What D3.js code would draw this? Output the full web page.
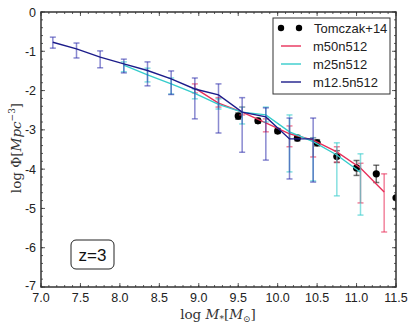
<!DOCTYPE html>
<html>
<head>
<meta charset="utf-8">
<script src="https://cdn.jsdelivr.net/npm/d3@7"></script>
<style>
  body { margin: 0; background: #fff; }
  text { font-family: "Liberation Sans", Arial, sans-serif; }
  .math { font-family: "DejaVu Serif", "Liberation Serif", serif; }
</style>
</head>
<body>
<div id="chart"></div>
<script>
// Tomczak+14 observations
var tomX = [9.5, 9.75, 10.0, 10.25, 10.5, 10.75, 11.0, 11.25, 11.5];
var tomY = [-2.65, -2.77, -3.03, -3.21, -3.33, -3.68, -3.97, -4.12, -4.73];
var tomErr = [0.08, 0.06, 0.06, 0.07, 0.08, 0.15, 0.19, 0.22, 0.3];

// m50n512
var redX  = [8.95, 9.25, 9.55, 9.85, 10.15, 10.45, 10.75, 11.05, 11.35];
var redY  = [-1.94, -2.32, -2.55, -2.82, -3.10, -3.26, -3.56, -3.97, -4.58];
var redHi = [-1.83, -2.18, -2.42, -2.72, -2.90, -3.20, -3.43, -3.85, -4.12];
var redLo = [-2.06, -2.42, -2.62, -3.05, -3.43, -3.69, -3.82, -4.86, -5.60];

// m25n512
var cyanX  = [8.05, 8.35, 8.65, 8.95, 9.25, 9.55, 9.85, 10.15, 10.45, 10.75, 11.05];
var cyanY  = [-1.35, -1.60, -1.83, -2.07, -2.35, -2.55, -2.62, -3.05, -3.30, -3.64, -4.08];
var cyanHi = [-1.27, -1.43, -1.68, -1.96, -2.21, -2.42, -2.42, -2.62, -3.20, -3.33, -3.61];
var cyanLo = [-1.52, -1.78, -2.09, -2.21, -2.47, -2.85, -2.80, -4.07, -4.30, -4.68, -5.17];

// m12.5n512
var blueX  = [7.15, 7.45, 7.75, 8.05, 8.35, 8.65, 8.95, 9.25, 9.55, 9.85, 10.15, 10.45];
var blueY  = [-0.77, -0.94, -1.15, -1.32, -1.49, -1.70, -1.96, -2.11, -2.55, -2.67, -3.23, -3.23];
var blueHi = [-0.64, -0.79, -0.99, -1.20, -1.27, -1.50, -1.68, -1.83, -2.18, -2.44, -2.70, -2.70];
var blueLo = [-0.92, -1.17, -1.42, -1.55, -1.88, -2.10, -2.72, -3.08, -3.57, -3.77, -4.25, -4.33];

var xTicks = [7.0, 7.5, 8.0, 8.5, 9.0, 9.5, 10.0, 10.5, 11.0, 11.5];
var yTicks = [0, -1, -2, -3, -4, -5, -6, -7];

var W = 415, H = 328;
var m = {left: 41, right: 19, top: 12, bottom: 41};

var svg = d3.select("#chart").append("svg")
    .attr("width", W).attr("height", H);

var x = d3.scaleLinear().domain([7, 11.5]).range([m.left, W - m.right]);
var y = d3.scaleLinear().domain([-7, 0]).range([H - m.bottom, m.top]);

svg.append("defs").append("clipPath").attr("id", "clip")
  .append("rect")
    .attr("x", m.left).attr("y", m.top)
    .attr("width", W - m.left - m.right).attr("height", H - m.top - m.bottom);

var plot = svg.append("g").attr("clip-path", "url(#clip)");

function zip(xs, ys, hi, lo) {
    return xs.map(function(v, i) {
        return {x: v, y: ys[i], hi: hi[i], lo: lo[i]};
    });
}

var series = [
    {name: "m50n512", color: "#e8305a", ebar: "rgba(232,48,90,0.6)", pts: zip(redX, redY, redHi, redLo)},
    {name: "m25n512", color: "#35cccc", ebar: "rgba(53,204,204,0.6)", pts: zip(cyanX, cyanY, cyanHi, cyanLo)},
    {name: "m12.5n512", color: "#1c1c8a", ebar: "rgba(40,40,170,0.55)", pts: zip(blueX, blueY, blueHi, blueLo)}
];

var line = d3.line().x(function(d) { return x(d.x); }).y(function(d) { return y(d.y); });

function errorBars(g, pts, color, cap) {
    var eb = g.append("g").selectAll("g").data(pts).enter().append("g")
        .attr("stroke", color).attr("stroke-width", 1.5);
    eb.append("line")
        .attr("x1", function(d) { return x(d.x); }).attr("x2", function(d) { return x(d.x); })
        .attr("y1", function(d) { return y(d.hi); }).attr("y2", function(d) { return y(d.lo); });
    eb.append("line")
        .attr("x1", function(d) { return x(d.x) - cap; }).attr("x2", function(d) { return x(d.x) + cap; })
        .attr("y1", function(d) { return y(d.hi); }).attr("y2", function(d) { return y(d.hi); });
    eb.append("line")
        .attr("x1", function(d) { return x(d.x) - cap; }).attr("x2", function(d) { return x(d.x) + cap; })
        .attr("y1", function(d) { return y(d.lo); }).attr("y2", function(d) { return y(d.lo); });
}

// observations
var tom = tomX.map(function(v, i) {
    return {x: v, y: tomY[i], hi: tomY[i] + tomErr[i], lo: tomY[i] - tomErr[i]};
});
errorBars(plot, tom, "rgba(0,0,0,0.55)", 3);
plot.selectAll("circle.tom").data(tom).enter().append("circle")
    .attr("class", "tom")
    .attr("cx", function(d) { return x(d.x); })
    .attr("cy", function(d) { return y(d.y); })
    .attr("r", 3.6)
    .attr("fill", "#000");

// simulations
series.forEach(function(s) {
    errorBars(plot, s.pts, s.ebar, 3);
    plot.append("path")
        .datum(s.pts)
        .attr("d", line)
        .attr("fill", "none")
        .attr("stroke", s.color)
        .attr("stroke-width", 1.4);
});

// axes, ticks inward on all four sides
var axisColor = "#333";
var xMinor = d3.range(70, 116).map(function(v) { return v / 10; });
var yMinor = d3.range(-35, 1).map(function(v) { return v / 5; });

var axes = svg.append("g");
function tickSet(vals, len, horizontal) {
    vals.forEach(function(v) {
        if (horizontal) {
            axes.append("line").attr("x1", x(v)).attr("x2", x(v))
                .attr("y1", H - m.bottom).attr("y2", H - m.bottom - len);
            axes.append("line").attr("x1", x(v)).attr("x2", x(v))
                .attr("y1", m.top).attr("y2", m.top + len);
        } else {
            axes.append("line").attr("y1", y(v)).attr("y2", y(v))
                .attr("x1", m.left).attr("x2", m.left + len);
            axes.append("line").attr("y1", y(v)).attr("y2", y(v))
                .attr("x1", W - m.right).attr("x2", W - m.right - len);
        }
    });
}
axes.attr("stroke", axisColor).attr("stroke-width", 0.8);
tickSet(xMinor, 2, true);
tickSet(yMinor, 2, false);
tickSet(xTicks, 4, true);
tickSet(yTicks, 4, false);

svg.append("rect")
    .attr("x", m.left).attr("y", m.top)
    .attr("width", W - m.left - m.right).attr("height", H - m.top - m.bottom)
    .attr("fill", "none").attr("stroke", axisColor).attr("stroke-width", 1.5);

svg.append("g").selectAll("text").data(xTicks).enter().append("text")
    .attr("x", function(d) { return x(d); })
    .attr("y", H - m.bottom + 15)
    .attr("text-anchor", "middle")
    .attr("font-size", 12.5)
    .attr("fill", "#222")
    .text(function(d) { return d.toFixed(1); });

svg.append("g").selectAll("text").data(yTicks).enter().append("text")
    .attr("x", m.left - 5)
    .attr("y", function(d) { return y(d) + (d === -7 ? 2.5 : 4.5); })
    .attr("text-anchor", "end")
    .attr("font-size", 12.5)
    .attr("fill", "#222")
    .text(function(d) { return d === 0 ? "0" : "-" + Math.abs(d); });

// axis labels
var xl = svg.append("text").attr("class", "math")
    .attr("x", 218).attr("y", 319)
    .attr("text-anchor", "middle")
    .attr("font-size", 13.5)
    .attr("fill", "#333");
xl.append("tspan").text("log ");
xl.append("tspan").attr("font-style", "italic").text("M");
xl.append("tspan").attr("font-size", 9).attr("dy", 3).text("*");
xl.append("tspan").attr("dy", -3).text("[");
xl.append("tspan").attr("font-style", "italic").text("M");
xl.append("tspan").attr("font-size", 9).attr("dy", 3).text("\u2299");
xl.append("tspan").attr("dy", -3).text("]");

var yl = svg.append("text").attr("class", "math")
    .attr("transform", "translate(21,148) rotate(-90)")
    .attr("text-anchor", "middle")
    .attr("font-size", 13.5)
    .attr("fill", "#333");
yl.append("tspan").text("log \u03A6[");
yl.append("tspan").attr("font-style", "italic").text("Mpc");
yl.append("tspan").attr("font-size", 9).attr("dy", -6).text("\u22123");
yl.append("tspan").attr("dy", 6).text("]");

// legend
var lg = svg.append("g");
lg.append("rect")
    .attr("x", 273).attr("y", 18).attr("width", 117).attr("height", 76)
    .attr("fill", "#fff").attr("stroke", "#333").attr("stroke-width", 1);
var legendRows = [{name: "Tomczak+14"}].concat(series);
legendRows.forEach(function(s, i) {
    var ly = 28 + i * 18;
    if (i === 0) {
        [281, 299].forEach(function(cx) {
            lg.append("circle").attr("cx", cx).attr("cy", ly).attr("r", 3.2).attr("fill", "#000");
        });
    } else {
        lg.append("line").attr("x1", 281).attr("x2", 301).attr("y1", ly).attr("y2", ly)
            .attr("stroke", s.color).attr("stroke-width", 1.4);
    }
    lg.append("text")
        .attr("x", i === 0 ? 314 : 313).attr("y", ly + 4.5)
        .attr("font-size", 13)
        .attr("fill", "#222")
        .text(s.name);
});

// redshift label
svg.append("rect")
    .attr("x", 71).attr("y", 240).attr("width", 43).attr("height", 29)
    .attr("rx", 5).attr("ry", 5)
    .attr("fill", "#fff").attr("stroke", "#222").attr("stroke-width", 1);
svg.append("text")
    .attr("x", 92.5).attr("y", 261)
    .attr("text-anchor", "middle")
    .attr("font-size", 17)
    .attr("fill", "#111")
    .text("z=3");
</script>
</body>
</html>
